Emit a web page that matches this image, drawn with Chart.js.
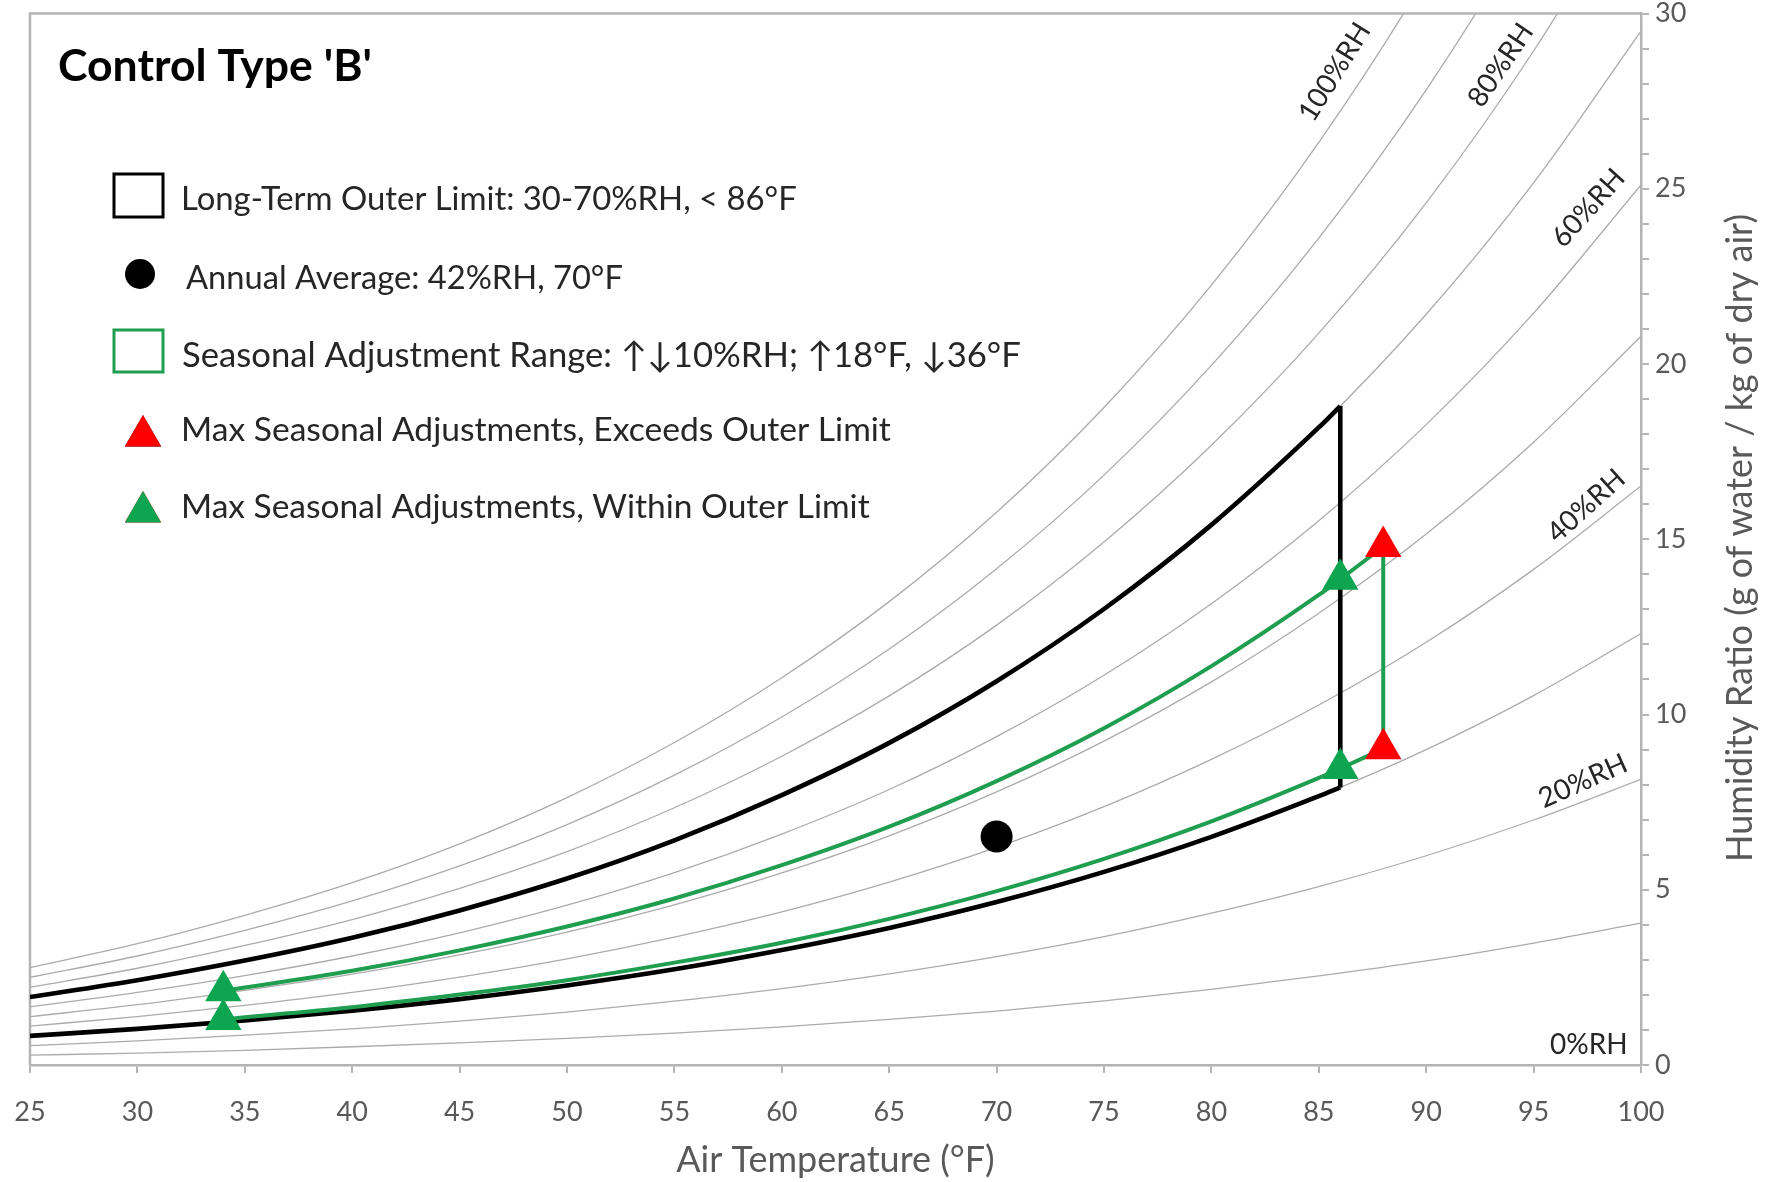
<!DOCTYPE html>
<html><head><meta charset="utf-8">
<script src="https://cdn.jsdelivr.net/npm/chart.js@4.4.1/dist/chart.umd.min.js"></script>
<style>html,body{margin:0;padding:0;background:#fff;}#wrap{width:1766px;height:1182px;position:relative;}</style>
</head><body><div id="wrap"><canvas id="c"></canvas></div>
<script>
// ---- data ----
const temps = [25,30,35,40,45,50,55,60,65,70,75,80,85,90,95,100];
const rh10  = [0.28,0.34,0.42,0.52,0.63,0.76,0.91,1.09,1.30,1.54,1.83,2.16,2.54,2.97,3.48,4.05];
const rh20  = [0.55,0.69,0.85,1.03,1.25,1.51,1.82,2.18,2.60,3.09,3.66,4.33,5.09,5.97,6.99,8.15];
const rh30  = [0.83,1.03,1.27,1.55,1.88,2.27,2.73,3.28,3.91,4.65,5.51,6.51,7.67,9.00,10.54,12.31];
const rh40  = [1.11,1.38,1.70,2.07,2.51,3.03,3.65,4.37,5.22,6.21,7.37,8.72,10.27,12.06,14.14,16.52];
const rh50  = [1.38,1.72,2.13,2.59,3.14,3.79,4.57,5.48,6.54,7.79,9.24,10.93,12.89,15.15,17.77,20.79];
const rh60  = [1.66,2.07,2.55,3.11,3.77,4.56,5.49,6.59,7.86,9.37,11.12,13.16,15.53,18.27,21.45,25.11];
const rh70  = [1.94,2.42,2.98,3.63,4.41,5.32,6.41,7.70,9.19,10.95,13.01,15.41,18.19,21.42,25.17,29.50];
const rh80  = [2.22,2.76,3.41,4.15,5.04,6.09,7.34,8.81,10.53,12.55,14.92,17.68,20.88,24.60,28.93,33.94];
const rh90  = [2.50,3.11,3.84,4.68,5.68,6.86,8.27,9.93,11.87,14.16,16.83,19.96,23.59,27.82,32.74,38.45];
const rh100 = [2.78,3.46,4.27,5.20,6.31,7.63,9.20,11.05,13.22,15.77,18.76,22.25,26.32,31.06,36.59,43.02];

const outerTemps = [25,30,35,40,45,50,55,60,65,70,75,80,85,86];
const outerLow   = [0.83,1.03,1.27,1.55,1.88,2.27,2.73,3.28,3.91,4.65,5.51,6.51,7.67,7.92];
const outerHigh  = [1.94,2.42,2.98,3.63,4.41,5.32,6.41,7.70,9.19,10.95,13.01,15.41,18.19,18.80];
const outerEdgeX = [86,86];
const outerEdgeY = [7.92,18.80];

const seasTemps = [34,35,40,45,50,55,60,65,70,75,80,85,86,88];
const seasLow   = [1.30,1.36,1.65,2.01,2.42,2.92,3.49,4.17,4.96,5.88,6.95,8.19,8.46,9.02];
const seasHigh  = [2.12,2.21,2.69,3.27,3.95,4.75,5.70,6.80,8.10,9.61,11.38,13.41,13.86,14.79];
const seasEdgeRX = [88,88];
const seasEdgeRY = [9.02,14.79];
const seasEdgeLX = [34,34];
const seasEdgeLY = [1.30,2.12];

const avgX = [70];
const avgY = [6.52];
const greenTriX = [34,34,86,86];
const greenTriY = [2.12,1.30,13.86,8.46];
const redTriX = [88,88];
const redTriY = [14.79,9.02];

const xTicks = [25,30,35,40,45,50,55,60,65,70,75,80,85,90,95,100];
const yTickLabels = [0,5,10,15,20,25,30];
const rhLabels = ['100%RH','80%RH','60%RH','40%RH','20%RH','0%RH'];
const legendLabels = [
  "Long-Term Outer Limit: 30-70%RH, < 86°F",
  "Annual Average: 42%RH, 70°F",
  "Seasonal Adjustment Range: ↑↓10%RH; ↑18°F, ↓36°F",
  "Max Seasonal Adjustments, Exceeds Outer Limit",
  "Max Seasonal Adjustments, Within Outer Limit"
];
const titleText = "Control Type 'B'";
const xTitle = 'Air Temperature (°F)';
const yTitle = 'Humidity Ratio (g of water / kg of dry air)';

// ---- styles ----
const AX = '#b4b4b4';
const GRAYLINE = '#ababab';
const GREEN = '#1f9e4f';
const GREENMK = '#0ea550';
const RED = '#ff0000';
const TXT = '#595959';
const FONT = 'Lato';
const PLOT_TOP = 13.5;

const pts = (xs, ys) => xs.map((x, i) => ({x, y: ys[i]}));
const rhSets = [rh10,rh20,rh30,rh40,rh50,rh60,rh70,rh80,rh90,rh100];

const datasets = [];
datasets.push({data: pts(redTriX, redTriY), showLine:false, pointStyle:'triangle', pointRadius:21, pointBackgroundColor:RED, pointBorderWidth:0, order:0});
datasets.push({data: pts(greenTriX, greenTriY), showLine:false, pointStyle:'triangle', pointRadius:21, pointBackgroundColor:GREENMK, pointBorderWidth:0, order:0});
datasets.push({data: pts(avgX, avgY), showLine:false, pointStyle:'circle', pointRadius:16, pointBackgroundColor:'#000', pointBorderWidth:0, order:0});
const greenLine = {borderColor:GREEN, borderWidth:4, pointRadius:0, cubicInterpolationMode:'monotone', fill:false, order:1};
datasets.push(Object.assign({data: pts(seasTemps, seasHigh)}, greenLine));
datasets.push(Object.assign({data: pts(seasTemps, seasLow)}, greenLine));
datasets.push(Object.assign({data: pts(seasEdgeRX, seasEdgeRY)}, greenLine));
datasets.push(Object.assign({data: pts(seasEdgeLX, seasEdgeLY)}, greenLine));
const blackLine = {borderColor:'#000', borderWidth:4.6, pointRadius:0, cubicInterpolationMode:'monotone', fill:false, order:2};
datasets.push(Object.assign({data: pts(outerTemps, outerHigh)}, blackLine));
datasets.push(Object.assign({data: pts(outerTemps, outerLow)}, blackLine));
datasets.push(Object.assign({data: pts(outerEdgeX, outerEdgeY)}, blackLine));
rhSets.forEach(s => datasets.push({data: pts(temps, s), borderColor:GRAYLINE, borderWidth:1.3, pointRadius:0, cubicInterpolationMode:'monotone', fill:false, order:3}));

function fitSize(ctx, text, w, weight){
  ctx.font = `${weight} 100px ${FONT}`;
  return 100 * w / ctx.measureText(text).width;
}

const deco = {
  id:'deco',
  afterLayout(chart){
    // pin the plot area's top edge
    const a = chart.chartArea;
    a.top = PLOT_TOP; a.height = a.bottom - a.top;
    const y = chart.scales.y;
    y.top = PLOT_TOP; y.height = y.bottom - y.top;
    y.configure();
  },
  beforeDatasetsDraw(chart){
    const {ctx, chartArea:a} = chart;
    ctx.save();
    ctx.strokeStyle = AX; ctx.lineWidth = 2.5;
    ctx.beginPath(); ctx.moveTo(a.left, a.bottom); ctx.lineTo(a.left, a.top); ctx.lineTo(a.right, a.top); ctx.stroke();
    ctx.restore();
  },
  afterDatasetsDraw(chart){
    const {ctx} = chart;
    const xs = chart.scales.x, ys = chart.scales.y;
    const P = (vx, vy) => [xs.getPixelForValue(vx), ys.getPixelForValue(vy)];
    ctx.save();
    ctx.fillStyle = '#262626';
    ctx.font = `28px ${FONT}`;
    const lab = [[85.74,28.33,-58],[93.47,28.53,-56],[97.55,24.45,-48],[97.45,15.95,-42],[97.3,8.10,-24]];
    lab.forEach((l, i) => {
      const [px, py] = P(l[0], l[1]);
      ctx.save(); ctx.translate(px, py); ctx.rotate(l[2]*Math.PI/180);
      ctx.textAlign='center'; ctx.textBaseline='middle'; ctx.fillText(rhLabels[i], 0, 0); ctx.restore();
    });
    const [zx, zy] = P(99.38, 0.57);
    ctx.textAlign='right'; ctx.textBaseline='middle'; ctx.fillText(rhLabels[5], zx, zy);
    ctx.restore();
  },
  afterDraw(chart){
    const {ctx} = chart;
    ctx.save();
    // title
    ctx.fillStyle = '#000';
    const ts = fitSize(ctx, titleText, 314, 'bold');
    ctx.font = `bold ${ts}px ${FONT}`;
    ctx.textAlign='left'; ctx.textBaseline='alphabetic';
    ctx.fillText(titleText, 58, 81);
    // legend
    ctx.fillStyle = '#262626';
    const textX = [181, 186, 182, 181, 181];
    const textW = [616, 437, 839, 710, 689];
    const textY = [198, 277, 355, 429, 506];
    legendLabels.forEach((t, i) => {
      const s = fitSize(ctx, t, textW[i], 'normal');
      ctx.font = `${s}px ${FONT}`;
      ctx.fillText(t, textX[i], textY[i] + s*0.36);
    });
    ctx.lineWidth = 3;
    ctx.strokeStyle = '#000';
    ctx.strokeRect(114, 174, 49, 43);
    ctx.fillStyle = '#000';
    ctx.beginPath(); ctx.arc(140, 274, 15, 0, Math.PI*2); ctx.fill();
    ctx.strokeStyle = GREEN;
    ctx.strokeRect(114, 330, 49, 42);
    Chart.helpers.drawPoint(ctx, {pointStyle:'triangle', radius:21, borderWidth:0}, 143, 436);
    ctx.fillStyle = RED; ctx.fill();
    ctx.beginPath();
    Chart.helpers.drawPoint(ctx, {pointStyle:'triangle', radius:21, borderWidth:0}, 143, 512);
    ctx.fillStyle = GREENMK; ctx.fill();
    // right axis title
    ctx.fillStyle = TXT;
    const ysz = fitSize(ctx, yTitle, 648, 'normal');
    ctx.font = `${ysz}px ${FONT}`;
    ctx.save(); ctx.translate(1740, 538); ctx.rotate(-Math.PI/2);
    ctx.textAlign='center'; ctx.textBaseline='middle';
    ctx.fillText(yTitle, 0, 0);
    ctx.restore();
    ctx.restore();
  }
};

new Chart(document.getElementById('c'), {
  type:'line',
  data:{datasets},
  options:{
    responsive:true, maintainAspectRatio:false, animation:false,
    layout:{padding:{left:30, top:8, right:0, bottom:0}},
    plugins:{legend:{display:false}, tooltip:{enabled:false}},
    scales:{
      x:{type:'linear', min:25, max:100, position:'bottom',
        afterBuildTicks(s){ s.ticks = xTicks.map(v => ({value:v})); },
        ticks:{autoSkip:false, maxRotation:0, font:{family:FONT, size:27}, color:TXT, padding:23},
        grid:{drawOnChartArea:false, drawTicks:true, tickLength:8, color:AX, lineWidth:2},
        border:{display:true, color:AX, width:2.5},
        title:{display:true, text:xTitle, font:{family:FONT, size:36}, color:TXT, padding:{top:0, bottom:0}},
        afterFit(s){ s.height = 117; s.paddingLeft = 0; s.paddingRight = 0; }
      },
      y:{type:'linear', min:0, max:30, position:'right',
        ticks:{stepSize:1, autoSkip:false, font:{family:FONT, size:27}, color:TXT, padding:6,
          callback:(v) => yTickLabels.includes(v) ? String(v) : ''},
        grid:{drawOnChartArea:false, drawTicks:true, tickLength:8, color:AX, lineWidth:2},
        border:{display:true, color:AX, width:2.5},
        afterFit(s){ s.width = 125; s.paddingTop = 0; s.paddingBottom = 0; }
      }
    }
  },
  plugins:[deco]
});
</script></body></html>
